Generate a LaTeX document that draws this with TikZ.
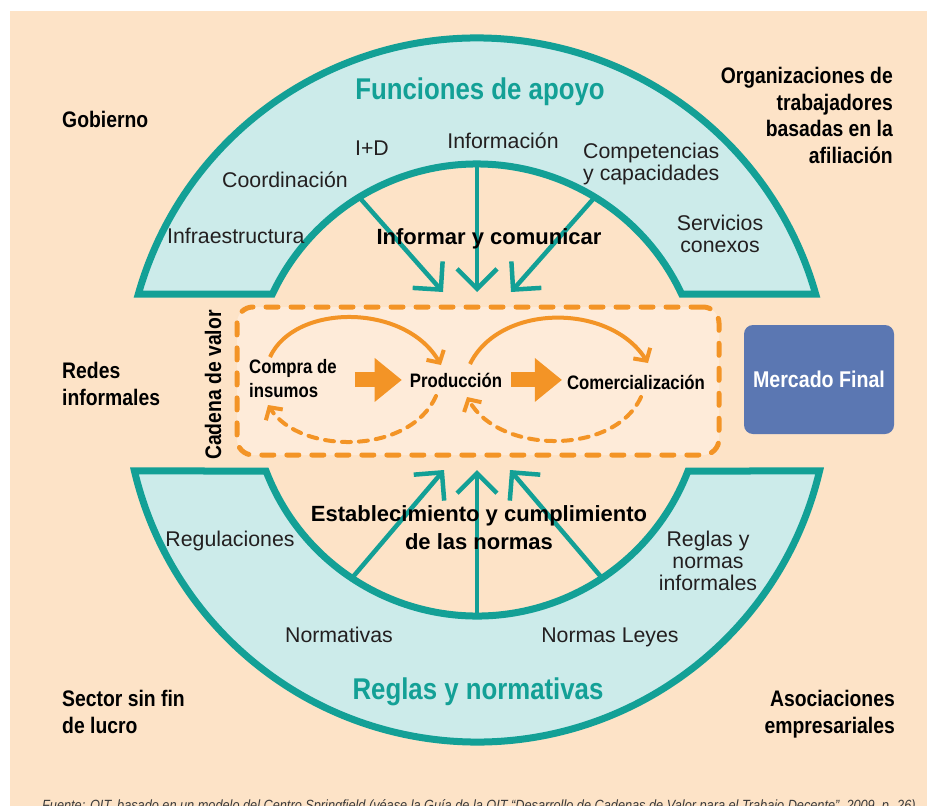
\documentclass[tikz,border=0pt]{standalone}
\usepackage{fontspec}
\setmainfont{Liberation Sans}
\newfontfamily\condsans[FakeStretch=0.86]{Liberation Sans}
\usepackage{tikz}
\usetikzlibrary{arrows.meta}
\definecolor{Peach}{HTML}{FDE3C7}
\definecolor{PeachLight}{HTML}{FEEBD9}
\definecolor{Teal}{HTML}{13A096}
\definecolor{TealPale}{HTML}{CCEBEA}
\definecolor{Orange}{HTML}{F39426}
\definecolor{Market}{HTML}{5B77B2}
\definecolor{Ink}{HTML}{231F20}
\definecolor{Note}{HTML}{3A3A3A}
\tikzset{
  band/.style={draw=Teal,line width=7pt,fill=TealPale},
  support/.style={draw=Teal,line width=4.5pt,-{Straight Barb[length=20pt,width=40pt]}},
  flowarc/.style={draw=Orange,line width=4pt,-{Straight Barb[length=9pt,width=20pt]}},
  backarc/.style={flowarc,dash pattern=on 9pt off 8pt,line cap=round},
  blockarrow/.style={draw=Orange,line width=15pt,-{Triangle[length=27pt,width=44pt,line width=0pt]}},
  chainbox/.style={
    draw=Orange,line width=5pt,dash pattern=on 12pt off 13pt,line cap=round,
    fill=PeachLight,rounded corners=16pt,minimum width=482pt,minimum height=148pt
  },
  market/.style={
    fill=Market,rounded corners=9pt,minimum width=150pt,minimum height=109pt,
    text=white,font=\condsans\bfseries\fontsize{22.8}{26}\selectfont
  },
  actor/.style={font=\condsans\bfseries\fontsize{22.5}{26.5}\selectfont,inner sep=0pt},
  bandtitle/.style={font=\condsans\bfseries\fontsize{30}{34}\selectfont,text=Teal,inner sep=0pt},
  item/.style={font=\fontsize{21.3}{22}\selectfont,text=Ink,inner sep=0pt},
  heading/.style={font=\bfseries\fontsize{22}{28.5}\selectfont,inner sep=0pt,align=center},
  stage/.style={font=\condsans\bfseries\fontsize{19.5}{24}\selectfont,inner sep=0pt},
  source/.style={font=\condsans\itshape\fontsize{14.8}{17}\selectfont,text=Note,inner sep=0pt}
}

\begin{document}
\begin{tikzpicture}[x=1pt,y=1pt,yscale=-1]
  \useasboundingbox (0,0) rectangle (927,806);
  \fill[white] (0,0) rectangle (927,806);
  \fill[Peach] (10,11) rectangle (927,806);
  \coordinate (C) at (477,390);

  \node[chainbox] (cadena) at (478,381) {};

  \path[band] ([shift={(195.826:352)}]C) arc[start angle=195.826,end angle=344.174,radius=352pt]
    -- ([shift={(334.863:226)}]C) arc[start angle=334.863,end angle=205.137,radius=226pt] -- cycle;
  \path[band] ([shift={(166.696:352)}]C) -- ([shift={(158.997:226)}]C)
    arc[start angle=158.997,end angle=21.003,radius=226pt]
    -- ([shift={(13.304:352)}]C) arc[start angle=13.304,end angle=166.696,radius=352pt] -- cycle;

  \coordinate (tl-from) at (359,197);  \coordinate (tl-to) at (443,292);
  \coordinate (tc-from) at (477,165);  \coordinate (tc-to) at (477,292);
  \coordinate (tr-from) at (595,197);  \coordinate (tr-to) at (511,292);
  \coordinate (bl-from) at (352,578);  \coordinate (bl-to) at (444,470);
  \coordinate (bc-from) at (477,615);  \coordinate (bc-to) at (477,470);
  \coordinate (br-from) at (602,578);  \coordinate (br-to) at (510,470);
  \foreach \n in {tl,tc,tr,bl,bc,br}
    \draw[support] (\n-from) -- (\n-to);

  \node[bandtitle,anchor=base] (funciones) at (480,99) {Funciones de apoyo};
  \node[bandtitle,anchor=base] (reglas) at (478,699) {Reglas y normativas};

  \node[item,anchor=base west] (infra) at (167,243) {Infraestructura};
  \node[item,anchor=base] (coord) at (285,187) {Coordinación};
  \node[item,anchor=base] (id) at (372,155) {I+D};
  \node[item,anchor=base] (info) at (503,148) {Información};
  \node[item,anchor=north west,align=left] (compet) at (583,143) {Competencias\\y capacidades};
  \node[item,anchor=north,align=center] (servicios) at (720,215) {Servicios\\conexos};
  \node[heading,anchor=base] (informar) at (489,244) {Informar y comunicar};

  \node[item,anchor=base] (regul) at (230,546) {Regulaciones};
  \node[item,anchor=base] (normativas) at (339,642) {Normativas};
  \node[item,anchor=base] (leyes) at (610,642) {Normas Leyes};
  \node[item,anchor=north,align=center] (informales) at (708,531) {Reglas y\\normas\\informales};
  \node[heading,anchor=north] (establec) at (479,505) {Establecimiento y cumplimiento\\de las normas};

  \node[actor,anchor=base west] (gobierno) at (62,127) {Gobierno};
  \node[actor,anchor=north east,align=right] (trabajadores) at (893,67)
    {Organizaciones de\\trabajadores\\basadas en la\\afiliación};
  \node[actor,anchor=north west,align=left] (redes) at (62,362) {Redes\\informales};
  \node[actor,anchor=north west,align=left] (sinfin) at (62,690) {Sector sin fin\\de lucro};
  \node[actor,anchor=north east,align=right] (asociaciones) at (895,690) {Asociaciones\\empresariales};

  \node[actor,rotate=90] (cadlabel) at (213,385) {Cadena de valor};
  \node[stage,anchor=north west,align=left] (compra) at (249,359) {Compra de\\insumos};
  \node[stage,anchor=base] (prod) at (456,387) {Producción};
  \node[stage,anchor=base] (comm) at (636,389) {Comercialización};
  \node[market] (mercado) at (819,379.5) {Mercado Final};

  \draw[blockarrow] ([xshift=18pt]compra.east |- prod.west) -- ([xshift=-8pt]prod.west);
  \draw[blockarrow] ([xshift=9pt]prod.east) -- ([xshift=-5pt]comm.west |- prod.east);

  \coordinate (a1s) at (270,357);  \coordinate (a1e) at (441,365);
  \coordinate (a2s) at (470,364);  \coordinate (a2e) at (648,363);
  \coordinate (b1s) at (436,396);  \coordinate (b1e) at (268,405);
  \coordinate (b2s) at (641,397);  \coordinate (b2e) at (467,397);
  \draw[flowarc] (a1s) .. controls (295,303) and (405,303) .. (a1e);
  \draw[flowarc] (a2s) .. controls (500,303) and (610,303) .. (a2e);
  \draw[backarc] (b1s) .. controls (410,455) and (300,455) .. (b1e);
  \draw[backarc] (b2s) .. controls (615,455) and (500,455) .. (b2e);

  \node[source,anchor=base west] (fuente) at (42,810)
    {Fuente: OIT, basado en un modelo del Centro Springfield (véase la Guía de la OIT “Desarrollo de Cadenas de Valor para el Trabajo Decente”, 2009, p. 26).};
\end{tikzpicture}
\end{document}
